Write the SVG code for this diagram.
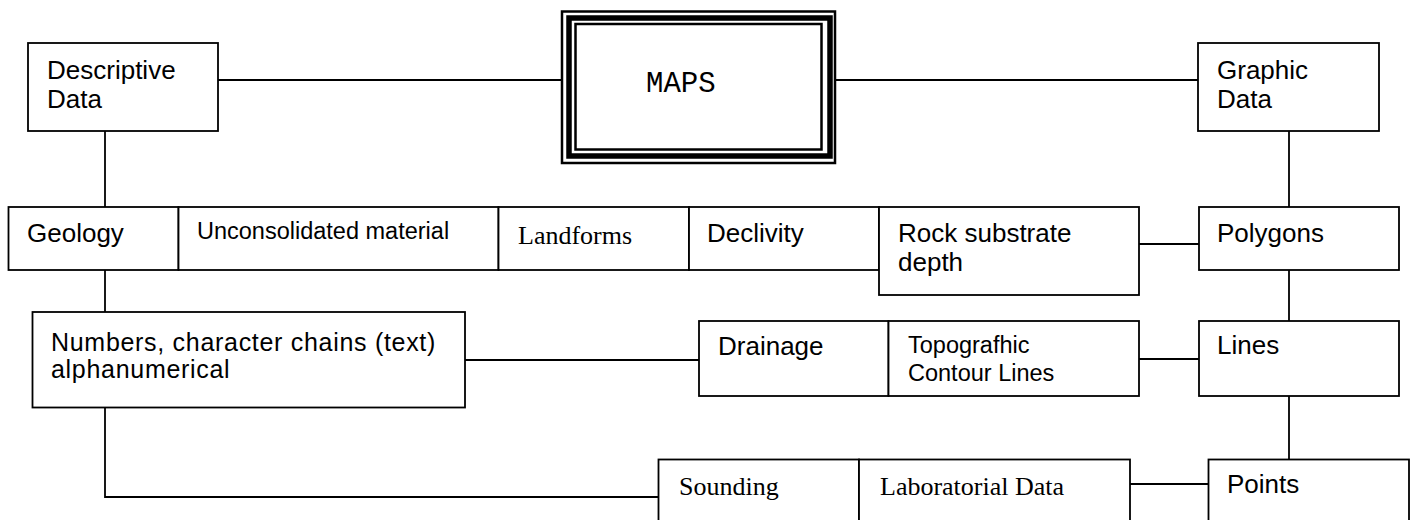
<svg xmlns="http://www.w3.org/2000/svg" width="1415" height="520" viewBox="0 0 1415 520">
  <style>
    .box { fill: #fff; stroke: #000; stroke-width: 1.8; }
    .link { fill: none; stroke: #000; stroke-width: 1.8; }
    .sans { font-family: "Liberation Sans", Arial, sans-serif; font-size: 26px; fill: #000; }
    .sans-s { font-family: "Liberation Sans", Arial, sans-serif; font-size: 23.5px; fill: #000; }
    .sans-w { font-family: "Liberation Sans", Arial, sans-serif; font-size: 25px; letter-spacing: 0.7px; fill: #000; }
    .serif { font-family: "Liberation Serif", "Times New Roman", serif; font-size: 26px; fill: #000; }
    .mono { font-family: "Liberation Mono", "Courier New", monospace; font-size: 29px; fill: #000; }
  </style>
  <rect width="1415" height="520" fill="#fff"/>

  <!-- connectors -->
  <g id="connectors">
    <line class="link" x1="218" y1="80" x2="561" y2="80"/>
    <line class="link" x1="836" y1="80" x2="1198" y2="80"/>
    <line class="link" x1="105" y1="131" x2="105" y2="207"/>
    <line class="link" x1="1289" y1="131" x2="1289" y2="207"/>
    <line class="link" x1="105" y1="270" x2="105" y2="312"/>
    <line class="link" x1="1139" y1="244" x2="1199" y2="244"/>
    <line class="link" x1="1289" y1="270" x2="1289" y2="321"/>
    <line class="link" x1="465" y1="360" x2="699" y2="360"/>
    <line class="link" x1="1139" y1="359" x2="1199" y2="359"/>
    <line class="link" x1="1289" y1="396" x2="1289" y2="459"/>
    <polyline class="link" points="105,407 105,497 658,497"/>
    <line class="link" x1="1130" y1="484" x2="1208" y2="484"/>
  </g>

  <!-- top level -->
  <g id="maps">
    <rect x="562" y="11.5" width="273" height="151.5" fill="#fff" stroke="#000" stroke-width="2.5"/>
    <rect x="569" y="18" width="261" height="138" fill="none" stroke="#000" stroke-width="5.5"/>
    <rect x="575.5" y="24" width="246" height="125.5" fill="none" stroke="#000" stroke-width="2.5"/>
    <text class="mono" x="646" y="92">MAPS</text>
  </g>
  <g id="descriptive-data">
    <rect class="box" x="28" y="43" width="190" height="88"/>
    <text class="sans" x="47" y="79">Descriptive</text>
    <text class="sans" x="47" y="108">Data</text>
  </g>
  <g id="graphic-data">
    <rect class="box" x="1198" y="43" width="181" height="88"/>
    <text class="sans" x="1217" y="79">Graphic</text>
    <text class="sans" x="1217" y="108">Data</text>
  </g>

  <!-- descriptive attributes row -->
  <g id="geology">
    <rect class="box" x="8.5" y="207" width="170" height="63"/>
    <text class="sans" x="27" y="242">Geology</text>
  </g>
  <g id="unconsolidated-material">
    <rect class="box" x="178.5" y="207" width="320" height="63"/>
    <text class="sans-s" x="197" y="239">Unconsolidated material</text>
  </g>
  <g id="landforms">
    <rect class="box" x="498.5" y="207" width="190.5" height="63"/>
    <text class="serif" x="518" y="244">Landforms</text>
  </g>
  <g id="declivity">
    <rect class="box" x="689" y="207" width="190" height="63"/>
    <text class="sans" x="707" y="242">Declivity</text>
  </g>
  <g id="rock-substrate-depth">
    <rect class="box" x="879" y="207" width="260" height="88"/>
    <text class="sans" x="898" y="242">Rock substrate</text>
    <text class="sans" x="898" y="271">depth</text>
  </g>

  <!-- graphic primitives -->
  <g id="polygons">
    <rect class="box" x="1199" y="207" width="200" height="63"/>
    <text class="sans" x="1217" y="242">Polygons</text>
  </g>
  <g id="lines">
    <rect class="box" x="1199" y="321" width="200" height="75"/>
    <text class="sans" x="1217" y="354">Lines</text>
  </g>
  <g id="points">
    <rect class="box" x="1208.5" y="459.5" width="200.5" height="80"/>
    <text class="sans" x="1227" y="493">Points</text>
  </g>

  <!-- data formats -->
  <g id="numbers-text">
    <rect class="box" x="32.5" y="312" width="432.5" height="95.5"/>
    <text class="sans-w" x="51" y="351">Numbers, character chains (text)</text>
    <text class="sans-w" x="51" y="377.5">alphanumerical</text>
  </g>
  <g id="drainage">
    <rect class="box" x="699" y="321" width="189.5" height="75"/>
    <text class="sans" x="718" y="355">Drainage</text>
  </g>
  <g id="topographic-contour-lines">
    <rect class="box" x="888.5" y="321" width="250.5" height="75"/>
    <text class="sans-s" x="908" y="353">Topografhic</text>
    <text class="sans-s" x="908" y="380.5">Contour Lines</text>
  </g>
  <g id="sounding">
    <rect class="box" x="658.5" y="459.5" width="200.5" height="80"/>
    <text class="serif" x="679" y="495">Sounding</text>
  </g>
  <g id="laboratorial-data">
    <rect class="box" x="859" y="459.5" width="271" height="80"/>
    <text class="serif" x="880" y="495">Laboratorial Data</text>
  </g>
</svg>
